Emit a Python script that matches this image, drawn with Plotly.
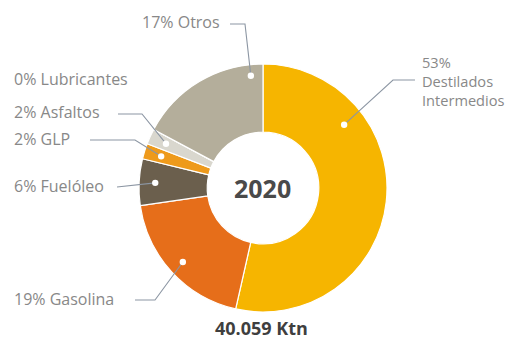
import math
import plotly.graph_objects as go

# Product mix, share of total output (%)
products = ["Destilados Intermedios", "Gasolina", "Fuelóleo", "GLP", "Asfaltos", "Lubricantes", "Otros"]
shares = [53, 19, 6, 2, 2, 0, 17]
label_texts = ["53%<br>Destilados<br>Intermedios", "19% Gasolina", "6% Fuelóleo", "2% GLP",
               "2% Asfaltos", "0% Lubricantes", "17% Otros"]
colors = ["#F6B500", "#E66E1A", "#6B5F4D", "#EE9A1B", "#D9D7CE", "#C9C6BA", "#B4AE9B"]
year_label = "2020"
total_label = "40.059 Ktn"

W, H = 526, 354
CX, CY, R = 263, 188, 124     # donut centre and outer radius (px)
HOLE = 0.45
FONT = "Open Sans"
LABEL_SIZE = 16
WRAPPED_SIZE = 14.6           # wrapped labels get a touch smaller to keep lines tight


def px(x, y):
    return x / W, 1 - y / H


# where along each slice the leader dot sits (fraction of slice sweep), radius factor
dot_frac = [0.27, 0.5, 0.5, 0.5, 0.5, None, 0.9]
dot_rad = [0.83, 0.88, 0.87, 0.86, 0.86, None, 0.91]
# label centre (px), elbow point of the leader (px) or None, leader start (px)
label_pos = [
    (420, 81, (393, 80), (415, 80)),
    (12, 299, (155, 300), (135, 300)),
    (12, 186, None, (117, 187)),
    (12, 139, (135, 140), (90, 140)),
    (12, 112, (142, 114), (118, 114)),
    (12, 79, None, None),
    (140, 22, (245, 24), (230, 24)),
]

fig = go.Figure()
x0, y0 = px(CX - R, CY + R)
x1, y1 = px(CX + R, CY - R)
fig.add_trace(go.Pie(
    labels=products, values=shares, hole=HOLE, sort=False, direction="clockwise",
    rotation=0, marker=dict(colors=colors, line=dict(color="white", width=1.2)),
    textinfo="none", hoverinfo="label+percent", showlegend=False,
    domain=dict(x=[x0, x1], y=[y0, y1]),
))

total = sum(shares)
shapes, annotations = [], []
start = 90.0
line_col = "#8C96A3"
for i, v in enumerate(shares):
    sweep = v / total * 360
    lx, ly, elbow, tail = label_pos[i]
    if dot_frac[i] is not None:
        ang = math.radians(start - sweep * dot_frac[i])
        r = R * dot_rad[i]
        dx, dy = CX + r * math.cos(ang), CY - r * math.sin(ang)
        pts = [tail] + ([elbow] if elbow else []) + [(dx, dy)]
        path = "M " + " L ".join(f"{px(a, b)[0]:.5f},{px(a, b)[1]:.5f}" for a, b in pts)
        shapes.append(dict(type="path", path=path, xref="paper", yref="paper",
                           line=dict(color=line_col, width=1.1)))
        rr = 3.2
        shapes.append(dict(type="circle", xref="paper", yref="paper",
                           x0=(dx - rr) / W, x1=(dx + rr) / W,
                           y0=1 - (dy + rr) / H, y1=1 - (dy - rr) / H,
                           fillcolor="white", line=dict(width=0)))
    size = WRAPPED_SIZE if "<br>" in label_texts[i] else LABEL_SIZE
    ax, ay = px(lx, ly)
    annotations.append(dict(x=ax, y=ay, xref="paper", yref="paper", text=label_texts[i],
                            showarrow=False, xanchor="left", yanchor="middle", align="left",
                            font=dict(family=FONT, size=size, color="#888888")))
    start -= sweep

cx, cy = px(CX - 1, CY)
annotations.append(dict(x=cx, y=cy, xref="paper", yref="paper", text=f"<b>{year_label}</b>",
                        showarrow=False, font=dict(family=FONT, size=25, color="#4A4A4A")))
bx, by = px(261, 342)
annotations.append(dict(x=bx, y=by, xref="paper", yref="paper", text=f"<b>{total_label}</b>",
                        showarrow=False, font=dict(family=FONT, size=18, color="#3F3F3F")))

fig.update_layout(width=W, height=H, margin=dict(l=0, r=0, t=0, b=0),
                  paper_bgcolor="white", plot_bgcolor="white",
                  shapes=shapes, annotations=annotations)
fig.write_html("out.html")
